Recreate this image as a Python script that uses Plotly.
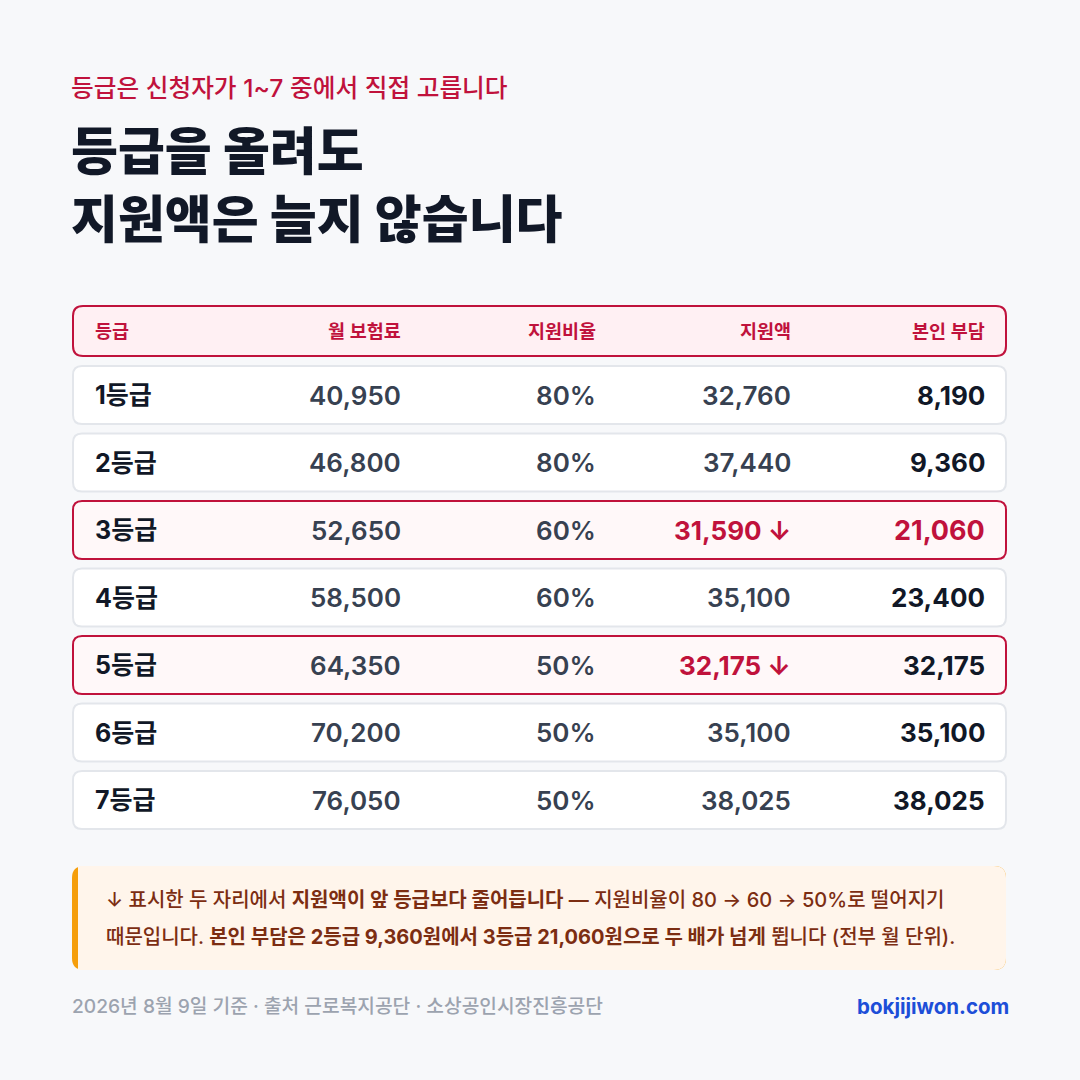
import plotly.graph_objects as go

# ---------------- data ----------------
grades = ["1등급", "2등급", "3등급", "4등급", "5등급", "6등급", "7등급"]
premium = [40950, 46800, 52650, 58500, 64350, 70200, 76050]
support_rate = [80, 80, 60, 60, 50, 50, 50]
support_amt = [32760, 37440, 31590, 35100, 32175, 35100, 38025]
self_pay = [8190, 9360, 21060, 23400, 32175, 35100, 38025]
drop_flag = [False, False, True, False, True, False, False]      # 지원액 감소 표시
self_pay_flag = [False, False, True, False, False, False, False]  # 본인 부담 강조
headers = ["등급", "월 보험료", "지원비율", "지원액", "본인 부담"]

eyebrow = "등급은 신청자가 1~7 중에서 직접 고릅니다"
title_lines = ["등급을 올려도", "지원액은 늘지 않습니다"]
note_lines = [
    "↓ 표시한 두 자리에서 <b>지원액이 앞 등급보다 줄어듭니다</b> — 지원비율이 80 → 60 → 50%로 떨어지기",
    "때문입니다. <b>본인 부담은 2등급 9,360원에서 3등급 21,060원으로 두 배가 넘게</b> 뜁니다 (전부 월 단위).",
]
footer_left = "2026년 8월 9일 기준 · 출처 근로복지공단 · 소상공인시장진흥공단"
footer_right = "bokjijiwon.com"

# ---------------- style ----------------
FONT = "Inter, Noto Sans CJK KR"
BG = "#f7f8fa"
RED = "#c0123c"
DARK = "#111827"
GRAY = "#374151"
MUTED = "#9ca3af"
BROWN = "#7c2d12"

W = H = 1080
L, R = 73, 1006
col_right = [None, 403, 598, 793, 987]
grade_x = 93
head_top, head_h = 306, 50
row_top0, row_h, row_pitch = 366, 58, 67.5


def rrect(x0, y0, x1, y1, r):
    return (f"M{x0+r},{y0} L{x1-r},{y0} Q{x1},{y0} {x1},{y0+r} "
            f"L{x1},{y1-r} Q{x1},{y1} {x1-r},{y1} L{x0+r},{y1} "
            f"Q{x0},{y1} {x0},{y1-r} L{x0},{y0+r} Q{x0},{y0} {x0+r},{y0} Z")


shapes = []
ann = []


def text(x, y, s, size, color, anchor="left", weight=None):
    f = dict(family=FONT, size=size, color=color)
    if weight:
        f["weight"] = weight
    ann.append(dict(x=x, y=y, xref="x", yref="y", text=s, showarrow=False,
                    xanchor=anchor, yanchor="middle", font=f))


# heading
text(69, 88, eyebrow, 24.7, RED, weight=500)
text(69, 151, title_lines[0], 51, DARK, weight=800)
text(69, 219, title_lines[1], 51, DARK, weight=800)

# header row
shapes.append(dict(type="path", path=rrect(L, head_top, R, head_top + head_h, 10),
                   fillcolor="#fff0f3", line=dict(color=RED, width=2), layer="below"))
hy = head_top + head_h / 2
for i, h in enumerate(headers):
    if i == 0:
        text(grade_x, hy, h, 18.5, RED, weight=600)
    else:
        text(col_right[i], hy, h, 18.5, RED, anchor="right", weight=600)

# body rows
for i, g in enumerate(grades):
    y0 = row_top0 + i * row_pitch
    y1 = y0 + row_h
    cy = (y0 + y1) / 2
    if drop_flag[i]:
        shapes.append(dict(type="path", path=rrect(L, y0, R, y1, 9),
                           fillcolor="#fff8f9", line=dict(color=RED, width=2), layer="below"))
    else:
        shapes.append(dict(type="path", path=rrect(L, y0, R, y1, 9),
                           fillcolor="#ffffff", line=dict(color="#e3e6eb", width=2), layer="below"))
    text(grade_x, cy, g, 25, DARK, weight=700)
    text(col_right[1], cy, f"{premium[i]:,}", 26, GRAY, anchor="right", weight=600)
    text(col_right[2], cy, f"{support_rate[i]}%", 26, GRAY, anchor="right", weight=600)
    if drop_flag[i]:
        text(col_right[3], cy, f"{support_amt[i]:,} ↓", 26, RED, anchor="right", weight=700)
    else:
        text(col_right[3], cy, f"{support_amt[i]:,}", 26, GRAY, anchor="right", weight=600)
    if self_pay_flag[i]:
        text(col_right[4], cy, f"{self_pay[i]:,}", 27, RED, anchor="right", weight=700)
    else:
        text(col_right[4], cy, f"{self_pay[i]:,}", 26, DARK, anchor="right", weight=700)

# note box
nb_top, nb_bot = 866, 970
shapes.append(dict(type="path", path=rrect(72, nb_top, R, nb_bot, 12),
                   fillcolor="#f59e0b", line=dict(width=0), layer="below"))
shapes.append(dict(type="path", path=rrect(78, nb_top, R, nb_bot, 12),
                   fillcolor="#fff5eb", line=dict(width=0), layer="below"))
shapes.append(dict(type="rect", x0=78, x1=100, y0=nb_top, y1=nb_bot,
                   fillcolor="#fff5eb", line=dict(width=0), layer="below"))
text(104, 900, note_lines[0], 20, BROWN, weight=500)
text(104, 937, note_lines[1], 20, BROWN, weight=500)

# footer
text(70, 1006, footer_left, 19.2, MUTED, weight=500)
text(1011, 1006, footer_right, 20.5, "#1d4ed8", anchor="right", weight=700)

fig = go.Figure()
fig.add_trace(go.Scatter(x=[0, W], y=[0, H], mode="markers",
                         marker=dict(opacity=0), hoverinfo="skip", showlegend=False))
fig.update_layout(
    width=W, height=H, margin=dict(l=0, r=0, t=0, b=0),
    paper_bgcolor=BG, plot_bgcolor=BG,
    xaxis=dict(range=[0, W], visible=False, fixedrange=True),
    yaxis=dict(range=[H, 0], visible=False, fixedrange=True),
    shapes=shapes, annotations=ann, showlegend=False,
)
fig.write_html(
    "out.html",
    config={"displayModeBar": False},
    post_script="document.body.style.margin='0';document.body.style.background='#f7f8fa';document.body.style.overflow='hidden';",
)
